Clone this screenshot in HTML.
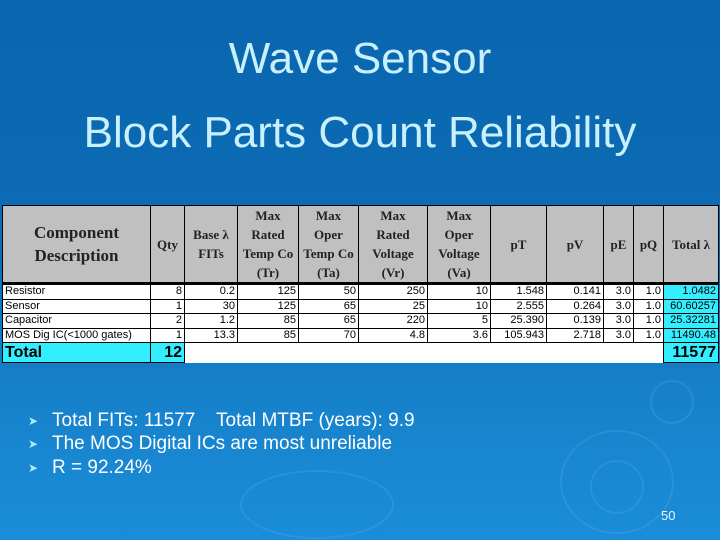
<!DOCTYPE html>
<html><head><meta charset="utf-8"><style>
html,body{margin:0;padding:0;width:720px;height:540px;overflow:hidden}
body{position:relative;font-family:"Liberation Sans",sans-serif;
background:linear-gradient(180deg,#0a66ae 0%,#0c6cb5 45%,#1782cc 75%,#1b8dd8 100%);}
.t{position:absolute;left:0;width:720px;text-align:center;color:#c8f0ff;font-size:44px;line-height:44px}
table{position:absolute;left:2px;top:205px;border-collapse:collapse;background:#fff;table-layout:fixed}
td{border:1px solid #000;padding:0 2px;font-size:11px;line-height:13px;height:13.5px;text-align:right;color:#000;white-space:nowrap;overflow:hidden}
td.l{text-align:left}
tr.h td{background:#c0c0c0;height:74px;font-family:"Liberation Serif",serif;font-weight:bold;text-align:center;font-size:13px;line-height:19px;border-bottom:3px solid #000;white-space:nowrap;color:#222}
tr.tot td{height:19px;font-weight:bold;font-size:16px}
.c{background:#33eeff!important}
.b{position:absolute;left:52px;color:#fff;font-size:19px;line-height:22px}
.ar{position:absolute;left:28px;color:#aef;font-size:12px;line-height:22px}
.ring{position:absolute;border-radius:50%;border:2px solid rgba(120,190,240,.18)}
</style></head><body>
<div class="ring" style="left:560px;top:430px;width:110px;height:100px"></div>
<div class="ring" style="left:590px;top:460px;width:50px;height:50px"></div>
<div class="ring" style="left:240px;top:470px;width:150px;height:65px"></div>
<div class="ring" style="left:650px;top:380px;width:40px;height:40px"></div>
<div class="t" style="top:37px">Wave Sensor</div>
<div class="t" style="top:111px">Block Parts Count Reliability</div>
<table>
<colgroup><col style="width:148px"><col style="width:34px"><col style="width:53px"><col style="width:61px"><col style="width:60px"><col style="width:69px"><col style="width:63px"><col style="width:56px"><col style="width:57px"><col style="width:30px"><col style="width:30px"><col style="width:55px"></colgroup>
<tr class="h">
<td style="font-size:17px;line-height:23px">Component<br>Description</td><td>Qty</td><td>Base λ<br>FITs</td><td>Max<br>Rated<br>Temp Co<br>(Tr)</td><td>Max<br>Oper<br>Temp Co<br>(Ta)</td><td>Max<br>Rated<br>Voltage<br>(Vr)</td><td>Max<br>Oper<br>Voltage<br>(Va)</td><td>pT</td><td>pV</td><td>pE</td><td>pQ</td><td>Total λ</td></tr>
<tr><td class="l">Resistor</td><td>8</td><td>0.2</td><td>125</td><td>50</td><td>250</td><td>10</td><td>1.548</td><td>0.141</td><td>3.0</td><td>1.0</td><td class="c">1.0482</td></tr>
<tr><td class="l">Sensor</td><td>1</td><td>30</td><td>125</td><td>65</td><td>25</td><td>10</td><td>2.555</td><td>0.264</td><td>3.0</td><td>1.0</td><td class="c">60.60257</td></tr>
<tr><td class="l">Capacitor</td><td>2</td><td>1.2</td><td>85</td><td>65</td><td>220</td><td>5</td><td>25.390</td><td>0.139</td><td>3.0</td><td>1.0</td><td class="c">25.32281</td></tr>
<tr><td class="l">MOS Dig IC(&lt;1000 gates)</td><td>1</td><td>13.3</td><td>85</td><td>70</td><td>4.8</td><td>3.6</td><td>105.943</td><td>2.718</td><td>3.0</td><td>1.0</td><td class="c">11490.48</td></tr>
<tr class="tot"><td class="l c">Total</td><td class="c">12</td><td colspan="9" style="border:none"></td><td class="c">11577</td></tr>
</table>
<div class="ar" style="top:410px">&#10148;</div><div class="b" style="top:410px">Total FITs: 11577&nbsp;&nbsp;&nbsp; Total MTBF (years): 9.9</div>
<div class="ar" style="top:433px">&#10148;</div><div class="b" style="top:433px">The MOS Digital ICs are most unreliable</div>
<div class="ar" style="top:457px">&#10148;</div><div class="b" style="top:457px">R = 92.24%</div>
<div style="position:absolute;left:661px;top:508px;color:#e8f6ff;font-size:13px">50</div>
</body></html>
